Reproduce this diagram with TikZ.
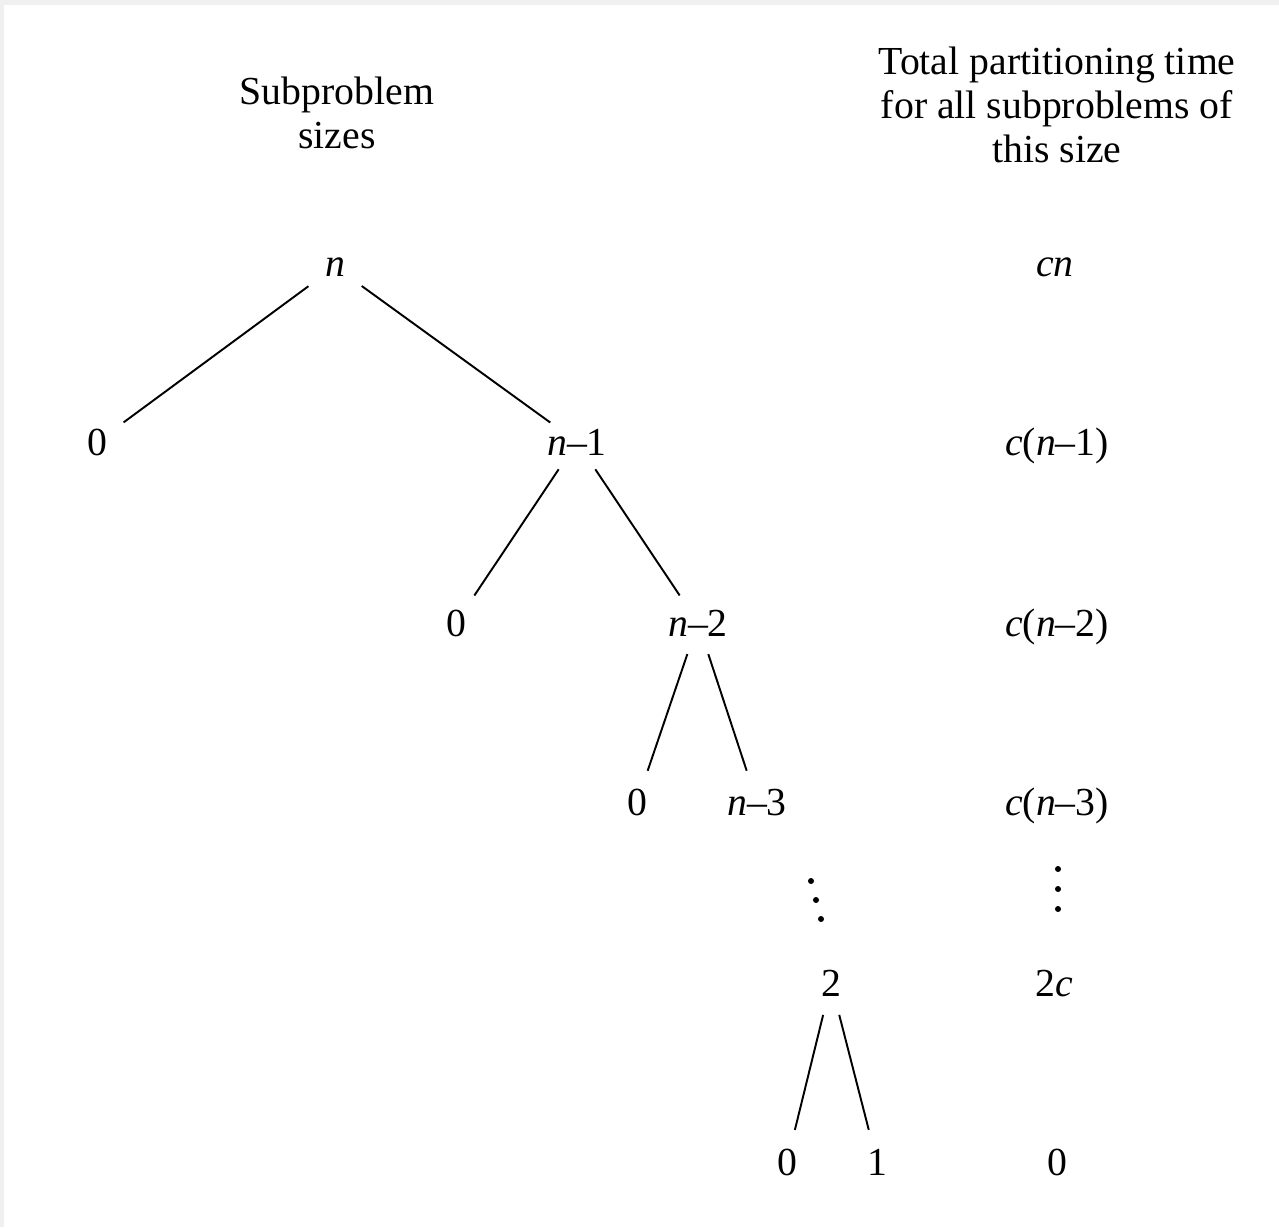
\documentclass[tikz,border=0pt]{standalone}
\usepackage{fontspec}
\setmainfont{Liberation Serif}
\usetikzlibrary{positioning}
\definecolor{framegrey}{RGB}{240,240,240}
\newcommand{\iv}[1]{\textit{#1}}

\begin{document}
\begin{tikzpicture}[x=0.01cm, y=-0.01cm,
    lbl/.style={font=\fontsize{11.3}{12.5}\selectfont, inner sep=0pt, anchor=base},
    head/.style={font=\fontsize{11.3}{12.5}\selectfont, align=center, inner sep=0pt},
    edge/.style={line width=0.55pt, black, shorten <=0.33cm, shorten >=0.33cm}
]
    \fill[framegrey] (0,0) rectangle (1279,1227);
    \fill[white] (4,5) rectangle (1279,1227);
    \useasboundingbox (0,0) rectangle (1279,1227);
    % column headings
    \node[head] (hsize) at (337,113) {Subproblem\\sizes};
    \node[head] (htime) at (1057,105) {Total partitioning time\\for all subproblems of\\this size};
    % recursion tree
    \node[lbl] (n)  at (335,276)  {\iv{n}};
    \node[lbl] (z1) at (97,455)   {0};
    \node[lbl] (n1) at (577,455)  {\iv{n}--1};
    \node[lbl] (z2) at (456,636)  {0};
    \node[lbl] (n2) at (698,636)  {\iv{n}--2};
    \node[lbl] (z3) at (637,815)  {0};
    \node[lbl] (n3) at (757,815)  {\iv{n}--3};
    \node[lbl] (t2) at (831,996)  {2};
    \node[lbl] (z4) at (787,1175) {0};
    \node[lbl] (o1) at (877,1175) {1};
    \draw[edge] (n.center)  -- (z1.center);
    \draw[edge] (n.center)  -- (n1.center);
    \draw[edge] (n1.center) -- (z2.center);
    \draw[edge] (n1.center) -- (n2.center);
    \draw[edge] (n2.center) -- (z3.center);
    \draw[edge] (n2.center) -- (n3.center);
    \draw[edge] (t2.center) -- (z4.center);
    \draw[edge] (t2.center) -- (o1.center);
    \fill (811,881) circle (3) (816,900) circle (3) (821,919) circle (3);
    % partitioning times
    \node[lbl] (c0) at (1055,276)  {\iv{cn}};
    \node[lbl] (c1) at (1057,455)  {\iv{c}(\iv{n}--1)};
    \node[lbl] (c2) at (1057,636)  {\iv{c}(\iv{n}--2)};
    \node[lbl] (c3) at (1057,815)  {\iv{c}(\iv{n}--3)};
    \node[lbl] (c4) at (1054,996)  {2\iv{c}};
    \node[lbl] (c5) at (1057,1175) {0};
    \fill (1058,869) circle (3) (1058,889) circle (3) (1058,909) circle (3);
\end{tikzpicture}
\end{document}
